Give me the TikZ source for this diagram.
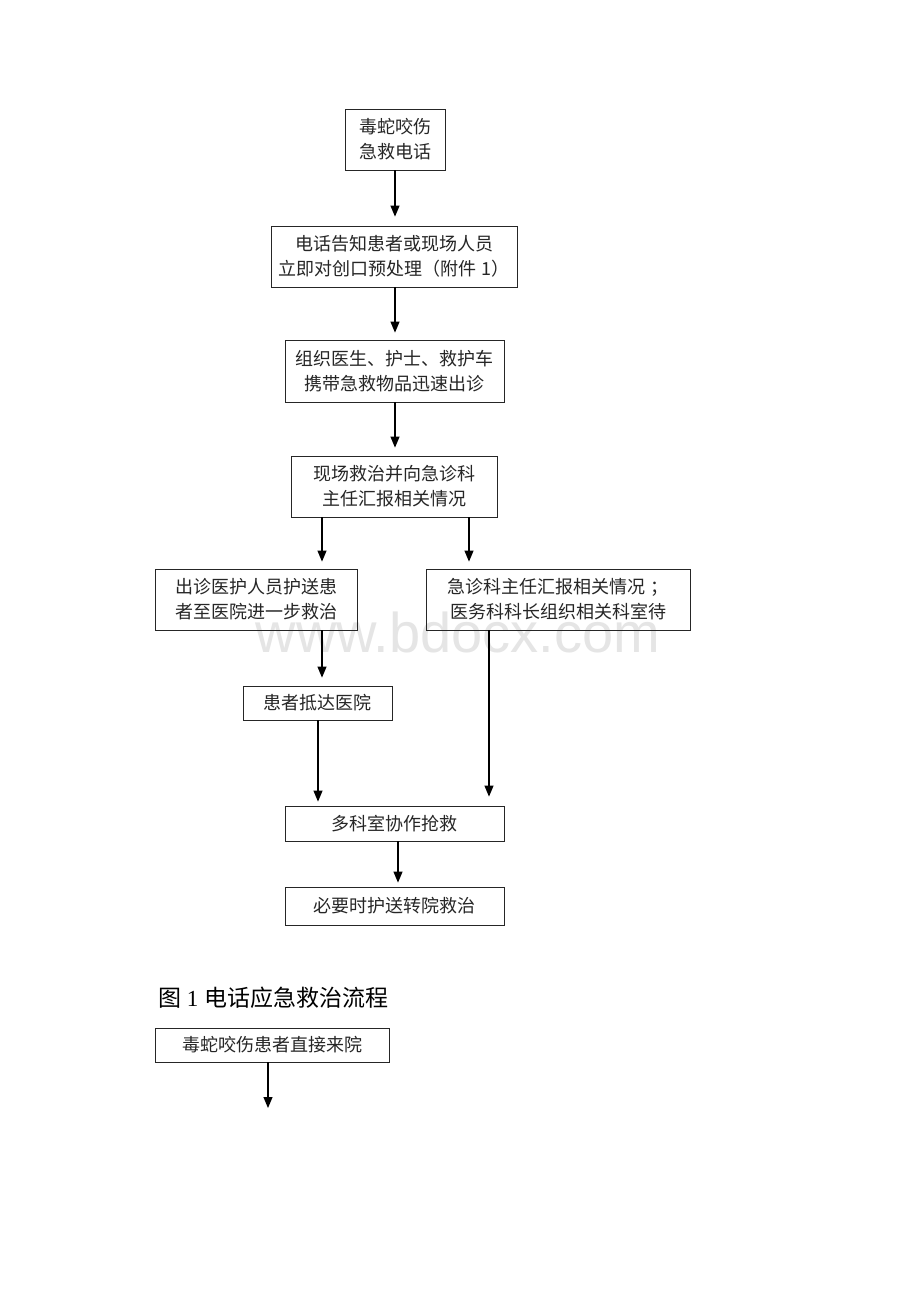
\documentclass[tikz,border=0pt]{standalone}
\usepackage{fontspec}
\setmainfont{Liberation Serif}
\newfontfamily\cjk{Noto Sans CJK SC}
\newfontfamily\wmfont{Liberation Sans}
\usetikzlibrary{arrows.meta}
\begin{document}
\begin{tikzpicture}[x=1pt,y=-1pt,
  box/.style={draw=black!85, line width=0.8pt, inner sep=0pt, align=center,
    font=\cjk\fontsize{18}{25}\selectfont, text=black!85},
  arr/.style={line width=1.1pt, -{Triangle[length=11pt,width=9pt]}},
  ln/.style={line width=1.1pt}]
\useasboundingbox (0,0) rectangle (920,1302);
\fill[white] (0,0) rectangle (920,1302);
\node[font=\wmfont\fontsize{56}{56}\selectfont, text=black!10, anchor=center] (wm) at (458,632) {www.bdocx.com};
\node[box, minimum width=100, minimum height=61] (b1) at (395,139.5) {毒蛇咬伤\\急救电话};
\node[box, minimum width=246, minimum height=61] (b2) at (394,256.5) {电话告知患者或现场人员\\立即对创口预处理（附件 1）};
\node[box, minimum width=219, minimum height=62] (b3) at (394.5,371) {组织医生、护士、救护车\\携带急救物品迅速出诊};
\node[box, minimum width=206, minimum height=61] (b4) at (394,486.5) {现场救治并向急诊科\\主任汇报相关情况};
\node[box, minimum width=202, minimum height=61] (b5l) at (256,599.5) {出诊医护人员护送患\\者至医院进一步救治};
\node[box, minimum width=264, minimum height=61] (b5r) at (558,599.5) {急诊科主任汇报相关情况 ；\\医务科科长组织相关科室待};
\node[box, minimum width=149, minimum height=34] (b6) at (317.5,703) {患者抵达医院};
\node[box, minimum width=219, minimum height=35] (b7) at (394.5,823.5) {多科室协作抢救};
\node[box, minimum width=219, minimum height=38] (b8) at (394.5,906) {必要时护送转院救治};
\node[anchor=base west, inner sep=0pt, font=\fontsize{23}{23}\selectfont] (cap) at (158,1006) {{\cjk 图} 1 {\cjk 电话应急救治流程}};
\node[box, minimum width=234, minimum height=34] (b9) at (272,1045) {毒蛇咬伤患者直接来院};
\coordinate (xm) at (395,0);
\coordinate (xa) at (322,0);
\coordinate (xb) at (469,0);
\coordinate (xc) at (318,0);
\coordinate (xd) at (489,0);
\coordinate (xe) at (398,0);
\coordinate (end9) at (268,1108);
\draw[arr] (b1.south -| xm) -- ([yshift=9]b2.north -| xm);
\draw[arr] (b2.south -| xm) -- ([yshift=7]b3.north -| xm);
\draw[arr] (b3.south -| xm) -- ([yshift=8]b4.north -| xm);
\draw[arr] (b4.south -| xa) -- ([yshift=7]b5l.north -| xa);
\draw[arr] (b4.south -| xb) -- ([yshift=7]b5r.north -| xb);
\draw[arr] (b5l.south -| xa) -- ([yshift=8]b6.north -| xa);
\draw[arr] (b6.south -| xc) -- ([yshift=4]b7.north -| xc);
\draw[arr] (b5r.south -| xd) -- ([yshift=9]b7.north -| xd);
\draw[arr] (b7.south -| xe) -- ([yshift=4]b8.north -| xe);
\draw[arr] (b9.south -| end9) -- (end9);
\end{tikzpicture}
\end{document}
